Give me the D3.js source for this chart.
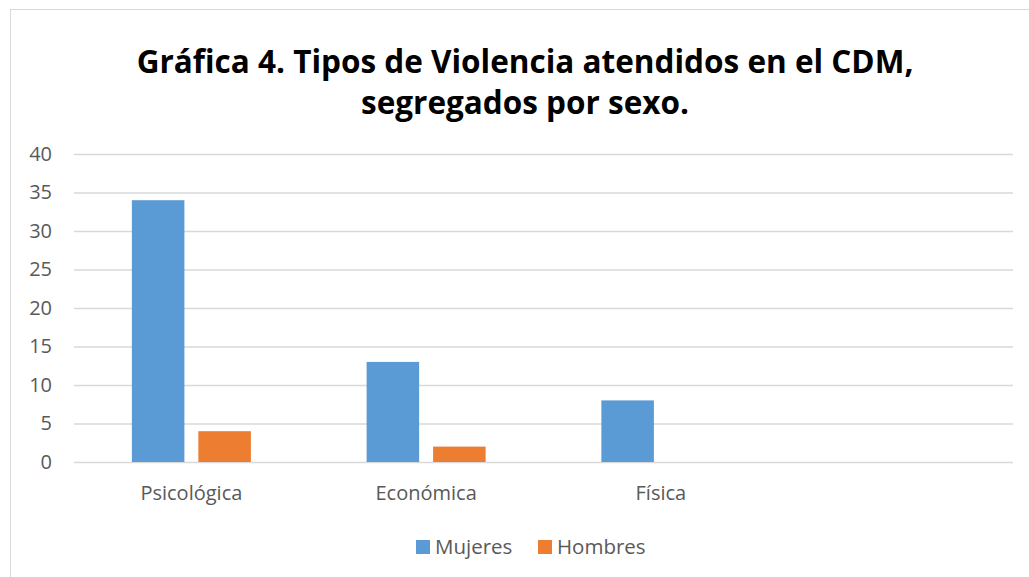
<!DOCTYPE html>
<html>
<head>
<meta charset="utf-8">
<script src="https://cdn.jsdelivr.net/npm/d3@7"></script>
<style>
  body { margin: 0; background: #fff; }
  svg { display: block; font-family: "Open Sans", "Noto Sans", sans-serif; }
</style>
</head>
<body>
<script>
const categories = ["Psicológica", "Económica", "Física", ""];
const seriesNames = ["Mujeres", "Hombres"];
const mujeres = [34, 13, 8, null];
const hombres = [4, 2, null, null];
const yTicks = [0, 5, 10, 15, 20, 25, 30, 35, 40];
const colors = ["#5b9bd5", "#ed7d31"];
const titleLines = ["Gráfica 4. Tipos de Violencia atendidos en el CDM,", "segregados por sexo."];

const WIDTH = 1029, HEIGHT = 577;
const MARGIN = { left: 74, right: 16, top: 154, bottom: 115 };
const FONT = '"Open Sans", "Noto Sans", sans-serif';

const rows = categories.map((c, i) => ({ cat: c, values: [mujeres[i], hombres[i]] }));

const svg = d3.select("body").append("svg")
  .attr("width", WIDTH)
  .attr("height", HEIGHT);

// chart frame
svg.append("rect")
  .attr("x", 10.5).attr("y", 9.5)
  .attr("width", 1040).attr("height", 600)
  .attr("fill", "none")
  .attr("stroke", "#d9d9d9");

const x0 = d3.scaleBand()
  .domain(categories)
  .range([MARGIN.left, WIDTH - MARGIN.right])
  .paddingInner(0.493)
  .paddingOuter(0.2465);

const x1 = d3.scaleBand()
  .domain(seriesNames)
  .range([0, x0.bandwidth()])
  .paddingInner(0.21);

const y = d3.scaleLinear([0, 40], [HEIGHT - MARGIN.bottom, MARGIN.top]);

// grid
const yAxis = d3.axisLeft(y)
  .tickValues(yTicks)
  .tickSize(-(WIDTH - MARGIN.right - MARGIN.left));

svg.append("g")
  .attr("transform", `translate(${MARGIN.left},0)`)
  .call(yAxis)
  .attr("font-family", FONT)
  .attr("font-size", 20)
  .call(g => g.select(".domain").remove())
  .call(g => g.selectAll(".tick line").attr("stroke", "#d9d9d9").attr("stroke-width", 1.3))
  .call(g => g.selectAll(".tick text")
    .attr("fill", "#595959")
    .attr("text-anchor", "end")
    .attr("x", -22));

// bars
svg.append("g")
  .selectAll("g")
  .data(rows)
  .join("g")
    .attr("transform", d => `translate(${x0(d.cat)},0)`)
  .selectAll("rect")
  .data(d => d.values.map((v, i) => ({ key: seriesNames[i], value: v, i })).filter(d => d.value != null))
  .join("rect")
    .attr("x", d => x1(d.key))
    .attr("width", x1.bandwidth())
    .attr("y", d => y(d.value))
    .attr("height", d => y(0) - y(d.value))
    .attr("fill", d => colors[d.i]);

// category labels
const xAxis = d3.axisBottom(x0).tickSize(0).tickPadding(24);
svg.append("g")
  .attr("transform", `translate(0,${y(0)})`)
  .call(xAxis)
  .attr("font-family", FONT)
  .attr("font-size", 20)
  .call(g => g.select(".domain").remove())
  .call(g => g.selectAll(".tick text").attr("fill", "#595959"));

// title
svg.append("text")
  .attr("text-anchor", "middle")
  .attr("font-weight", "bold")
  .attr("fill", "#000")
  .style("font-size", "31.5px")
  .selectAll("tspan")
  .data(titleLines)
  .join("tspan")
    .attr("x", 525)
    .attr("y", (d, i) => 73 + i * 41)
    .text(d => d);

// legend
const legend = svg.append("g")
  .attr("transform", "translate(416,547)");
const li = legend.selectAll("g")
  .data(seriesNames)
  .join("g")
    .attr("transform", (d, i) => `translate(${i * 122},0)`);
li.append("rect")
  .attr("x", 0).attr("y", -7)
  .attr("width", 14).attr("height", 14)
  .attr("fill", (d, i) => colors[i]);
li.append("text")
  .attr("x", 19)
  .attr("dy", "0.35em")
  .attr("fill", "#595959")
  .style("font-size", "20.5px")
  .text(d => d);
</script>
</body>
</html>
